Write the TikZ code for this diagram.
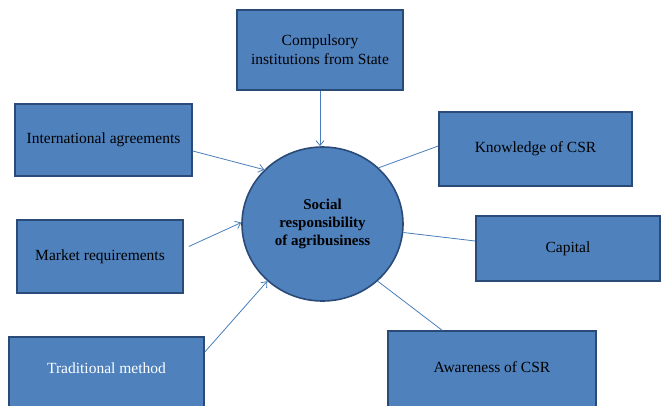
\documentclass[tikz,border=0pt]{standalone}
\usepackage{fontspec}
\setmainfont{Liberation Serif}
\usetikzlibrary{shapes.geometric,arrows.meta}
\definecolor{boxfill}{HTML}{4F81BD}
\definecolor{boxedge}{HTML}{2A4A78}
\definecolor{linkcol}{HTML}{4A7EBB}
\tikzset{
  rbox/.style={draw=boxedge, fill=boxfill, line width=1.6pt, inner sep=0pt, align=center,
    font=\fontsize{15.5}{19}\selectfont, text=black},
  boxtext/.style={font=\fontsize{15.5}{19}\selectfont, inner sep=0pt},
  hub/.style={ellipse, draw=boxedge, fill=boxfill, line width=1.6pt, inner sep=0pt, align=center,
    minimum width=161pt, minimum height=154pt, font=\bfseries\fontsize{15}{18}\selectfont},
  link/.style={draw=linkcol, line width=0.8pt},
  arr/.style={link, -{Straight Barb[length=5pt,width=8pt]}}
}
\begin{document}
\begin{tikzpicture}[x=1pt,y=-1pt]
\useasboundingbox (0,0) rectangle (661,405);
\node[hub] (circ) at (322.5,224) {Social\\responsibility\\of agribusiness};
\node[rbox, minimum width=166pt, minimum height=80pt] (comp) at (320,50) {Compulsory\\institutions from State};
\node[rbox, minimum width=177pt, minimum height=72pt] (intl) at (103.5,140) {International agreements};
\node[rbox, minimum width=166pt, minimum height=73pt] (mkt) at (100,256.5) {Market requirements};
\node[rbox, minimum width=195pt, minimum height=74pt,
  label={[boxtext, text=white, yshift=6pt]center:Traditional method}] (trad) at (106.5,374) {};
\node[rbox, minimum width=193pt, minimum height=74pt] (know) at (535.5,149) {Knowledge of CSR};
\node[rbox, minimum width=184pt, minimum height=65pt] (cap) at (568,248.5) {Capital};
\node[rbox, minimum width=208pt, minimum height=78pt,
  label={[boxtext, text=black, yshift=3pt]center:Awareness of CSR}] (awr) at (492,370) {};
\draw[arr] (comp.south) -- (comp.south |- circ.north);
\draw[arr] ([yshift=-11pt]intl.east) -- (circ.137);
\draw[arr] ([xshift=5pt,yshift=10pt]mkt.east) -- (circ.179);
\draw[arr] ([yshift=22pt]trad.east) -- (circ.226);
\draw[link] ([yshift=3pt]know.west) -- (circ.45);
\draw[link] ([yshift=7.5pt]cap.west) -- (circ.-6);
\draw[link] ([xshift=-50pt]awr.north) -- (circ.-46);
\end{tikzpicture}
\end{document}
